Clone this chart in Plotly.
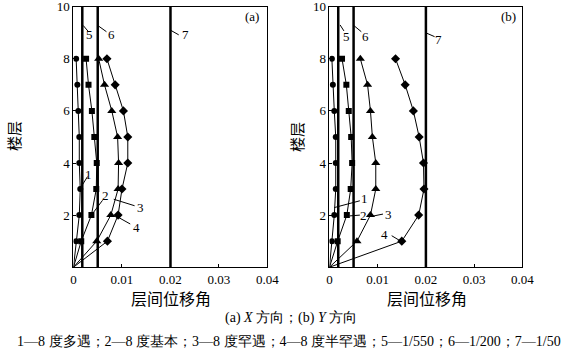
import plotly.graph_objects as go

floors = [0, 1, 2, 3, 4, 5, 6, 7, 8]

# Panel (a) X direction
a_s1 = [0, 0.00055, 0.0012, 0.0014, 0.0012, 0.0012, 0.0010, 0.0008, 0.00055]
a_s2 = [0, 0.0016, 0.0037, 0.0047, 0.0048, 0.0043, 0.0038, 0.0031, 0.0026]
a_s3 = [0, 0.0048, 0.0077, 0.0092, 0.0093, 0.0091, 0.0079, 0.0064, 0.0052]
a_s4 = [0, 0.0070, 0.0092, 0.0100, 0.0112, 0.0112, 0.0103, 0.0086, 0.0069]

# Panel (b) Y direction
b_s1 = [0, 0.0005, 0.0010, 0.0013, 0.0013, 0.0013, 0.0010, 0.0007, 0.0005]
b_s2 = [0, 0.0017, 0.0036, 0.0044, 0.0047, 0.0045, 0.0040, 0.0035, 0.0026]
b_s3 = [0, 0.0057, 0.0085, 0.0096, 0.0096, 0.0089, 0.0085, 0.0079, 0.0064]
b_s4 = [0, 0.0150, 0.0185, 0.0196, 0.0195, 0.0186, 0.0174, 0.0157, 0.0137]

limits = [1 / 550, 1 / 200, 1 / 50]
symbols = ["circle", "square", "triangle-up", "diamond"]
marker_sizes = [6, 6, 8, 7]
x_ticks = [0, 0.01, 0.02, 0.03, 0.04]
x_tick_text = ["0", "0.01", "0.02", "0.03", "0.04"]
y_ticks = [2, 4, 6, 8, 10]

# labels: (text, text_x, text_y, line_x0, line_y0, line_x1, line_y1)
labels_a = [
    ("5", 0.0033, 8.92, 0.0020, 9.28, 0.0030, 9.06),
    ("6", 0.0078, 8.92, 0.0050, 9.28, 0.0068, 9.04),
    ("7", 0.0230, 8.92, 0.0200, 9.10, 0.0217, 8.92),
    ("1", 0.0031, 3.57, 0.0017, 3.12, 0.0029, 3.48),
    ("2", 0.0066, 2.74, 0.0041, 2.10, 0.0060, 2.57),
    ("3", 0.0138, 2.29, 0.0083, 2.61, 0.0126, 2.36),
    ("4", 0.0129, 1.53, 0.0093, 1.91, 0.0117, 1.66),
]
labels_b = [
    ("5", 0.0035, 8.85, 0.0022, 9.30, 0.0030, 9.07),
    ("6", 0.0075, 8.85, 0.0051, 9.27, 0.0066, 9.04),
    ("7", 0.0226, 8.73, 0.0202, 8.98, 0.0218, 8.85),
    ("1", 0.0072, 2.62, 0.0010, 2.29, 0.0063, 2.55),
    ("2", 0.0070, 2.00, 0.0042, 1.97, 0.0063, 2.00),
    ("3", 0.0122, 2.04, 0.0087, 1.95, 0.0111, 2.04),
    ("4", 0.0115, 1.27, 0.0146, 1.02, 0.0129, 1.21),
]

serif = "Liberation Serif"
cjk = "Noto Sans CJK SC"

fig = go.Figure()

panels = [
    ("x", "y", [a_s1, a_s2, a_s3, a_s4], labels_a, "(a)"),
    ("x2", "y2", [b_s1, b_s2, b_s3, b_s4], labels_b, "(b)"),
]

annotations = []
shapes = []
for xa, ya, series, labels, tag in panels:
    for s, sym, ms in zip(series, symbols, marker_sizes):
        fig.add_trace(go.Scatter(
            x=s, y=floors, xaxis=xa, yaxis=ya, mode="lines",
            line=dict(color="black", width=1), showlegend=False, hoverinfo="skip"))
        fig.add_trace(go.Scatter(
            x=s[1:], y=floors[1:], xaxis=xa, yaxis=ya, mode="markers",
            marker=dict(symbol=sym, size=ms, color="black"), showlegend=False))
    for lim in limits:
        fig.add_trace(go.Scatter(
            x=[lim, lim], y=[0, 10], xaxis=xa, yaxis=ya, mode="lines",
            line=dict(color="black", width=2.5), showlegend=False))
    for t, tx, ty, x0, y0, x1, y1 in labels:
        annotations.append(dict(x=tx, y=ty, xref=xa, yref=ya, text=t, showarrow=False,
                                font=dict(family=serif, size=13, color="black")))
        shapes.append(dict(type="line", xref=xa, yref=ya, x0=x0, y0=y0, x1=x1, y1=y1,
                           line=dict(color="black", width=1)))
    annotations.append(dict(x=0.0368 if tag == "(a)" else 0.0372, y=9.62, xref=xa, yref=ya,
                            text=tag, showarrow=False,
                            font=dict(family=serif, size=13, color="black")))

axis_common = dict(
    showline=True, linecolor="black", linewidth=1, mirror=True,
    ticks="inside", ticklen=3, tickcolor="black", showgrid=False, zeroline=False,
    tickfont=dict(family=serif, size=13, color="black"), automargin=False,
)

y_dom = [0.243, 0.981]
fig.update_layout(
    width=574, height=353, margin=dict(l=0, r=0, t=0, b=0, autoexpand=False),
    plot_bgcolor="white", paper_bgcolor="white",
    xaxis=dict(domain=[0.128, 0.466], range=[0, 0.04], tickvals=x_ticks, ticktext=x_tick_text,
               anchor="y", **axis_common),
    yaxis=dict(domain=y_dom, range=[0, 10], tickvals=y_ticks, anchor="x",
               ticklabeloverflow="allow", **axis_common),
    xaxis2=dict(domain=[0.574, 0.910], range=[0, 0.04], tickvals=x_ticks, ticktext=x_tick_text,
                anchor="y2", **axis_common),
    yaxis2=dict(domain=y_dom, range=[0, 10], tickvals=y_ticks, anchor="x2",
                ticklabeloverflow="allow", **axis_common),
    shapes=shapes,
)

# axis titles and captions
px = lambda v: v / 574
py = lambda v: 1 - v / 353
cap = dict(xref="paper", yref="paper", showarrow=False, xanchor="center", yanchor="middle")
annotations += [
    dict(x=px(14), y=py(136), text="楼层", textangle=-90,
         font=dict(family=cjk, size=15, color="black"), **cap),
    dict(x=px(296), y=py(137), text="楼层", textangle=-90,
         font=dict(family=cjk, size=15, color="black"), **cap),
    dict(x=px(171), y=py(298), text="层间位移角",
         font=dict(family=cjk, size=16, color="black"), **cap),
    dict(x=px(427), y=py(298), text="层间位移角",
         font=dict(family=cjk, size=16, color="black"), **cap),
    dict(x=px(291), y=py(318), text="(a) <i>X</i> 方向；(b) <i>Y</i> 方向",
         font=dict(family=serif, size=14, color="black"), **cap),
    dict(x=px(289), y=py(341),
         text="1—8 度多遇；2—8 度基本；3—8 度罕遇；4—8 度半罕遇；5—1/550；6—1/200；7—1/50",
         font=dict(family=serif, size=14, color="black"), **cap),
]
fig.update_layout(annotations=annotations)

fig.write_html("out.html")
